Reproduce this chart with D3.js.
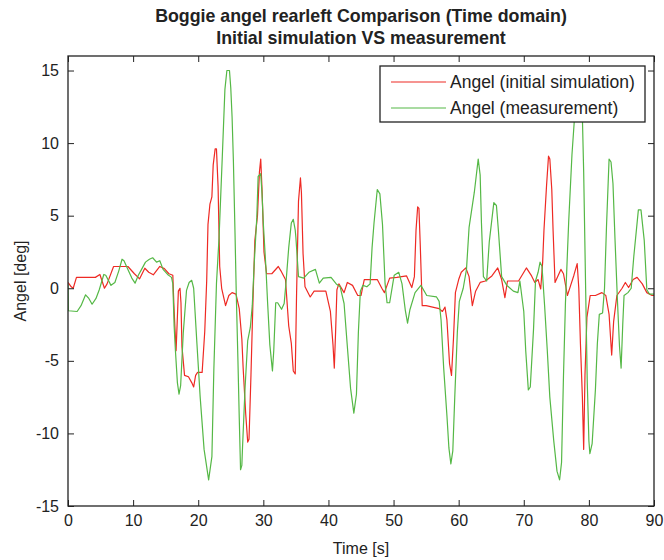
<!DOCTYPE html>
<html>
<head>
<meta charset="utf-8">
<script src="https://cdn.jsdelivr.net/npm/d3@7"></script>
<style>
  html, body { margin: 0; padding: 0; background: #fff; }
  svg text { font-family: "Liberation Sans", Arial, Helvetica, sans-serif; fill: #222; }
</style>
</head>
<body>
<svg id="chart" width="664" height="560"></svg>
<script>
// ---------------- data ----------------
const titleLines = ["Boggie angel rearleft Comparison (Time domain)", "Initial simulation VS measurement"];
const xLabel = "Time [s]";
const yLabel = "Angel [deg]";
const seriesNames = ["Angel (initial simulation)", "Angel (measurement)"];
const xTicks = [0, 10, 20, 30, 40, 50, 60, 70, 80, 90];
const yTicks = [-15, -10, -5, 0, 5, 10, 15];

// initial simulation (red)
const simTime = [0, 0.5, 0.8, 1.3, 4.2, 4.9, 5.6, 6.0, 7.0, 9.2, 10.2, 11.0, 11.8, 12.4, 13.1, 14.1, 14.8, 15.5, 16.1,
  16.25, 16.4, 16.6, 16.8, 16.95, 17.2, 17.35, 17.5, 17.9, 18.5, 19.0, 19.3, 19.6, 19.9, 20.6, 21.0, 21.3, 21.5, 21.8,
  22.1, 22.3, 22.6, 22.8, 23.05, 23.3, 23.6, 24.2, 24.7, 25.2, 25.8, 26.3, 26.7, 26.9, 27.3, 27.6, 27.8, 28.1, 28.4,
  28.7, 29.1, 29.4, 29.6, 29.8, 30.1, 30.5, 31.3, 32.3, 32.7, 33.4, 33.9, 34.3, 34.6, 34.9, 35.1, 35.4, 35.7, 35.85,
  36.1, 36.4, 37.2, 37.8, 39.6, 40.3, 40.7, 40.9, 41.1, 41.3, 41.6, 42.4, 42.9, 43.7, 44.5, 45.0, 45.5, 47.5, 48.2,
  48.6, 49.4, 50.5, 52.0, 52.8, 53.2, 53.45, 53.7, 53.9, 54.1, 54.4, 55.0, 56.0, 57.0, 57.5, 57.9, 58.2, 58.6, 58.9,
  59.2, 59.5, 60.0, 60.4, 61.1, 61.6, 62.1, 62.6, 63.3, 64.1, 65.1, 66.0, 66.6, 67.1, 67.5, 69.2, 70.4, 71.2, 71.7,
  72.2, 72.6, 72.9, 73.1, 73.5, 73.8, 74.0, 74.3, 74.5, 74.8, 75.3, 75.7, 76.1, 76.7, 77.2, 77.7, 78.2, 78.45, 78.7,
  79.0, 79.2, 79.4, 79.7, 80.2, 81.0, 82.0, 82.6, 83.1, 83.5, 83.8, 84.3, 85.1, 85.6, 86.1, 86.8, 87.4, 88.2, 88.9,
  89.7, 90];
const simAngle = [0.4, 0.1, 0.0, 0.75, 0.75, 0.95, 0.0, 0.3, 1.5, 1.5, 1.0, 0.65, 1.38, 1.1, 0.93, 1.5, 1.35, 1.0, 0.9,
  -1.0, -2.5, -4.3, -2.0, -0.2, 0.0, -1.0, -4.0, -6.0, -6.1, -6.5, -6.8, -6.0, -5.8, -5.8, -3.0, 0.5, 4.4, 5.8,
  6.3, 8.5, 9.6, 9.6, 7.0, 1.5, 0.0, -1.2, -0.5, -0.3, -0.4, -1.4, -3.5, -5.5, -8.7, -10.6, -10.4, -6.0, -1.0,
  3.3, 5.0, 8.0, 8.9, 6.8, 2.5, 1.0, 1.0, 1.5, 1.2, 0.6, -2.6, -3.8, -5.7, -5.9, -0.5, 6.0, 7.6, 6.6,
  2.4, 0.1, -0.6, -0.2, -0.2, -1.6, -3.9, -5.5, -3.0, -0.1, 0.3, -0.3, 0.4, 0.2, -0.5, -0.5, 0.6, 0.6, 0.0,
  -0.3, 0.7, 0.75, 0.85, 0.05, 0.8, 4.0, 5.6, 5.5, 3.0, -1.2, -1.2, -1.3, -1.4, -1.6, -1.3, -2.2, -5.2, -6.0,
  -3.5, -0.3, 0.6, 1.1, 1.4, 0.8, -1.2, -0.2, 0.4, 0.5, 0.85, 1.4, 0.6, -0.65, 0.5, 0.5, 1.4, 0.85, 0.4,
  0.6, -0.05, 1.8, 4.0, 7.1, 9.1, 8.9, 6.8, 4.0, 0.4, 0.9, 1.3, 1.0, -0.5, 0.2, 0.9, 1.7, 0.0, -3.8,
  -7.5, -11.1, -6.0, -2.0, -0.5, -0.5, -0.3, -0.5, -1.8, -4.6, -2.3, -0.5, 0.0, 0.4, 0.05, 0.6, 0.75, 0.3, -0.3,
  -0.5, -0.5];

// measurement (green)
const measTime = [0, 0.05, 1.4, 2.0, 2.7, 3.2, 3.7, 4.3, 4.8, 5.5, 5.8, 6.6, 7.2, 7.8, 8.3, 8.6, 9.2, 9.8, 10.3, 10.8,
  11.3, 11.9, 12.5, 13.0, 13.6, 14.1, 14.6, 15.3, 15.9, 16.1, 16.3, 16.5, 16.8, 17.05, 17.3, 17.7, 18.2, 18.6, 19.0,
  19.3, 19.8, 20.3, 20.9, 21.6, 22.1, 22.4, 22.8, 23.2, 23.7, 24.1, 24.4, 24.8, 25.0, 25.2, 25.4, 25.65, 25.85, 26.1,
  26.3, 26.5, 26.7, 26.8, 27.2, 27.6, 28.0, 28.3, 28.6, 29.0, 29.2, 29.6, 29.8, 30.0, 30.4, 30.65, 31.0, 31.4, 31.6,
  31.9, 32.2, 32.8, 33.2, 33.5, 33.9, 34.3, 34.6, 34.9, 35.0, 35.4, 36.2, 37.0, 38.0, 38.6, 39.2, 40.4, 41.2, 41.8,
  42.4, 42.9, 43.4, 43.9, 44.3, 44.6, 44.9, 45.3, 45.9, 46.4, 46.7, 47.0, 47.5, 47.9, 48.3, 48.7, 49.0, 49.4, 50.1,
  50.8, 51.3, 51.8, 52.15, 52.5, 53.3, 54.2, 55.1, 56.6, 57.0, 57.3, 57.7, 58.2, 58.5, 58.8, 59.1, 59.4, 59.8, 60.1,
  60.7, 61.2, 61.6, 62.4, 63.0, 63.3, 63.5, 63.8, 64.3, 64.7, 65.4, 65.8, 66.1, 66.6, 67.4, 68.4, 69.1, 69.4, 70.0,
  70.3, 70.7, 71.0, 71.5, 71.8, 72.2, 72.5, 72.8, 73.2, 73.6, 74.0, 74.6, 75.1, 75.5, 75.8, 76.1, 76.4, 76.9, 77.4,
  77.8, 78.2, 78.6, 79.0, 79.2, 79.5, 79.75, 80.0, 80.15, 80.5, 81.0, 81.3, 81.6, 82.1, 82.4, 82.7, 83.1, 83.4, 83.7,
  84.0, 84.4, 84.7, 84.95, 85.2, 85.4, 86.0, 86.5, 86.9, 87.6, 88.0, 88.5, 88.9, 89.3, 90];
const measAngle = [0.3, -1.55, -1.6, -1.2, -0.45, -0.7, -1.1, -0.7, -0.1, 0.95, 0.9, 0.2, 0.4, 1.2, 2.0, 1.9, 1.3, 0.7, 0.35, 0.9,
  1.3, 1.8, 2.0, 2.1, 1.8, 1.9, 1.3, 0.95, 0.75, 0.3, -2.6, -4.3, -6.5, -7.3, -6.7, -3.1, -0.15, 0.4, 0.55,
  0.0, -3.8, -7.5, -11.1, -13.2, -11.6, -5.6, 0.3, 3.5, 9.1, 13.7, 15.0, 15.0, 13.8, 11.8, 8.8, 3.8, -0.5, -5.0,
  -8.9, -12.5, -12.2, -11.0, -6.8, -3.6, -2.7, -1.2, 1.7, 4.9, 7.7, 7.9, 6.5, 4.45, 1.4, -0.95, -3.9, -5.7, -4.3,
  -1.0, -1.0, -1.45, -1.05, 0.5, 2.8, 4.5, 4.75, 4.0, 3.5, 0.8, 0.7, 1.1, 1.3, 0.35, 0.7, 0.75, 0.3, 0.1,
  -1.05, -4.0, -6.9, -8.6, -7.3, -3.0, -0.2, 0.2, 0.1, 0.3, 2.8, 4.5, 6.8, 6.5, 4.4, 0.3, -1.0, -1.0, 0.9,
  1.1, 0.3, -1.5, -2.4, -1.5, -0.3, 0.2, -0.5, -0.6, -0.9, -2.2, -5.5, -8.8, -11.0, -12.1, -11.2, -7.5, -3.0, -0.9,
  0.0, 1.3, 4.2, 6.6, 8.9, 7.8, 4.5, 0.8, 0.5, 3.2, 5.9, 5.7, 4.0, 0.8, 0.2, -0.2, -0.3, 0.5, -1.6,
  -4.3, -7.0, -6.8, -2.8, 0.5, 1.1, 1.8, 1.5, -1.2, -4.2, -7.5, -10.5, -12.6, -13.2, -12.0, -6.0, -1.0, 4.6, 9.2,
  11.8, 13.0, 13.0, 11.8, 8.0, 0.0, -6.5, -10.5, -11.4, -10.7, -7.0, -3.8, -1.8, -1.7, 0.0, 4.2, 8.9, 8.7, 7.2,
  3.5, -1.0, -4.0, -5.5, -2.5, -0.5, -0.3, 0.0, 2.2, 5.4, 5.4, 3.3, -0.1, -0.4, -0.4];

// ---------------- chart ----------------
const svg = d3.select("#chart");
const x0 = 68, x1 = 654, y0 = 506, y1 = 56;

const x = d3.scaleLinear().domain([0, 90]).range([x0, x1]);
const y = d3.scaleLinear().domain([-15, 16]).range([y0, y1]);

const colors = ["#ee2a24", "#55b846"];
const fs = 16;

// clip
svg.append("defs").append("clipPath").attr("id", "clip")
  .append("rect").attr("x", x0).attr("y", y1).attr("width", x1 - x0).attr("height", y0 - y1);

svg.append("rect").attr("x", x0).attr("y", y1).attr("width", x1 - x0).attr("height", y0 - y1).attr("fill", "#fff");

// lines
const line = d3.line().x(d => x(d[0])).y(d => y(d[1]));
const simData = simTime.map((t, i) => [t, simAngle[i]]);
const measData = measTime.map((t, i) => [t, measAngle[i]]);
const gLines = svg.append("g").attr("clip-path", "url(#clip)");
gLines.append("path").datum(simData).attr("d", line)
  .attr("fill", "none").attr("stroke", colors[0]).attr("stroke-width", 1.2).attr("stroke-linejoin", "round");
gLines.append("path").datum(measData).attr("d", line)
  .attr("fill", "none").attr("stroke", colors[1]).attr("stroke-width", 1.2).attr("stroke-linejoin", "round");

// axes (inside ticks, MATLAB style)
const tickLen = 6;
const fmt = d => String(d);
const axisStyle = g => {
  g.select(".domain").remove();
  g.selectAll(".tick line").attr("stroke", "#222").attr("stroke-width", 1);
  g.selectAll(".tick text").attr("font-size", fs).attr("fill", "#222")
    .attr("font-family", '"Liberation Sans", Arial, sans-serif');
};
svg.append("g").attr("transform", `translate(0,${y0})`)
  .call(d3.axisBottom(x).tickValues(xTicks).tickFormat(fmt).tickSizeInner(-tickLen).tickSizeOuter(0).tickPadding(9))
  .call(axisStyle);
svg.append("g").attr("transform", `translate(0,${y1})`)
  .call(d3.axisTop(x).tickValues(xTicks).tickSizeInner(-tickLen).tickSizeOuter(0).tickFormat(""))
  .call(axisStyle);
svg.append("g").attr("transform", `translate(${x0},0)`)
  .call(d3.axisLeft(y).tickValues(yTicks).tickFormat(fmt).tickSizeInner(-tickLen).tickSizeOuter(0).tickPadding(9))
  .call(axisStyle);
svg.append("g").attr("transform", `translate(${x1},0)`)
  .call(d3.axisRight(y).tickValues(yTicks).tickSizeInner(-tickLen).tickSizeOuter(0).tickFormat(""))
  .call(axisStyle);

// box
svg.append("rect").attr("x", x0).attr("y", y1).attr("width", x1 - x0).attr("height", y0 - y1)
  .attr("fill", "none").attr("stroke", "#222").attr("stroke-width", 1.3);

// title
svg.append("text").attr("x", (x0 + x1) / 2).attr("y", 22).attr("text-anchor", "middle")
  .attr("font-size", 17.8).attr("font-weight", "bold").text(titleLines[0]);
svg.append("text").attr("x", (x0 + x1) / 2).attr("y", 44).attr("text-anchor", "middle")
  .attr("font-size", 17.8).attr("font-weight", "bold").text(titleLines[1]);

// axis labels
svg.append("text").attr("x", (x0 + x1) / 2).attr("y", 554).attr("text-anchor", "middle")
  .attr("font-size", fs).text(xLabel);
svg.append("text").attr("transform", `translate(26,${(y0 + y1) / 2}) rotate(-90)`)
  .attr("text-anchor", "middle").attr("font-size", fs).text(yLabel);

// legend
const lg = svg.append("g");
lg.append("rect").attr("x", 380).attr("y", 66).attr("width", 265).attr("height", 56)
  .attr("fill", "#fff").attr("stroke", "#222").attr("stroke-width", 1.3);
seriesNames.forEach((name, i) => {
  const ly = 82 + i * 26;
  lg.append("line").attr("x1", 391).attr("x2", 446).attr("y1", ly).attr("y2", ly)
    .attr("stroke", colors[i]).attr("stroke-width", 1.2);
  lg.append("text").attr("x", 450).attr("y", ly + 6).attr("font-size", 17.5).text(name);
});
</script>
</body>
</html>
